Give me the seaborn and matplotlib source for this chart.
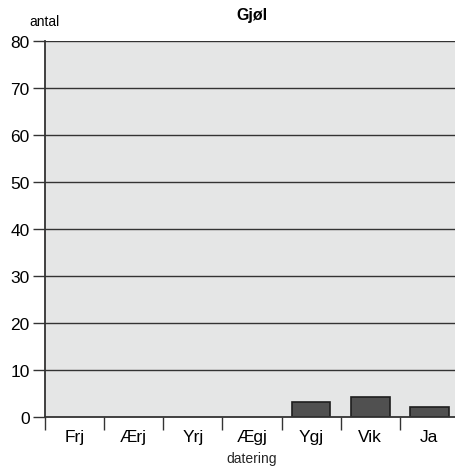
import numpy as np
import pandas as pd
import seaborn as sns
import matplotlib.pyplot as plt

# data
categories = ["Frj", "Ærj", "Yrj", "Ægj", "Ygj", "Vik", "Ja"]
counts = [0, 0, 0, 0, 3.2, 4.2, 2.1]
yticks = [0, 10, 20, 30, 40, 50, 60, 70, 80]

df = pd.DataFrame({"datering": categories, "antal": counts})

sns.set_style("white")
plt.rcParams['font.family'] = ['Liberation Sans', 'DejaVu Sans']
plt.rcParams['text.color'] = 'black'
plt.rcParams['xtick.color'] = 'black'
plt.rcParams['ytick.color'] = 'black'

fig = plt.figure(figsize=(4.56, 4.77), dpi=100)
ax = fig.add_axes([45 / 456, 1 - 418 / 477, 414 / 456, 376 / 477])
ax.set_facecolor("#e5e6e6")

for t in yticks[1:]:
    ax.axhline(t, color="#333333", lw=1.0, zorder=1)

sns.barplot(data=df, x="datering", y="antal", order=categories, color="#505050",
            edgecolor="#1e1e1e", linewidth=1.2, width=0.65, saturation=1, ax=ax, zorder=3)
# empty bars leave no outline
for p in ax.patches:
    if p.get_height() == 0:
        p.set_linewidth(0)

ax.set_ylim(0, 80)
ax.set_xlim(-0.5, 6.5)
ax.set_yticks(yticks)
ax.tick_params(axis="y", left=True, length=9, width=1, color="#333333", labelsize=12.5, pad=2)
ax.set_xticks(range(len(categories)))
ax.set_xticklabels(categories)
ax.set_xticks(np.arange(-0.5, 6.5, 1.0), minor=True)
ax.tick_params(axis="x", which="major", bottom=True, length=0, labelsize=12.5, pad=9)
ax.tick_params(axis="x", which="minor", bottom=True, length=9, width=1, color="#333333")

for s in ["left", "bottom"]:
    ax.spines[s].set_color("#333333")
    ax.spines[s].set_linewidth(1.3)
    ax.spines[s].set_zorder(4)
ax.spines["top"].set_visible(False)
ax.spines["right"].set_visible(False)

ax.set_xlabel("datering", fontsize=10, labelpad=5)
ax.set_ylabel("")
ax.text(0.0, 1.035, "antal", transform=ax.transAxes, fontsize=10, ha="center", va="bottom")
ax.set_title("Gjøl", fontsize=11.5, fontweight="bold", pad=16)

fig.savefig("out.png", dpi=100)
